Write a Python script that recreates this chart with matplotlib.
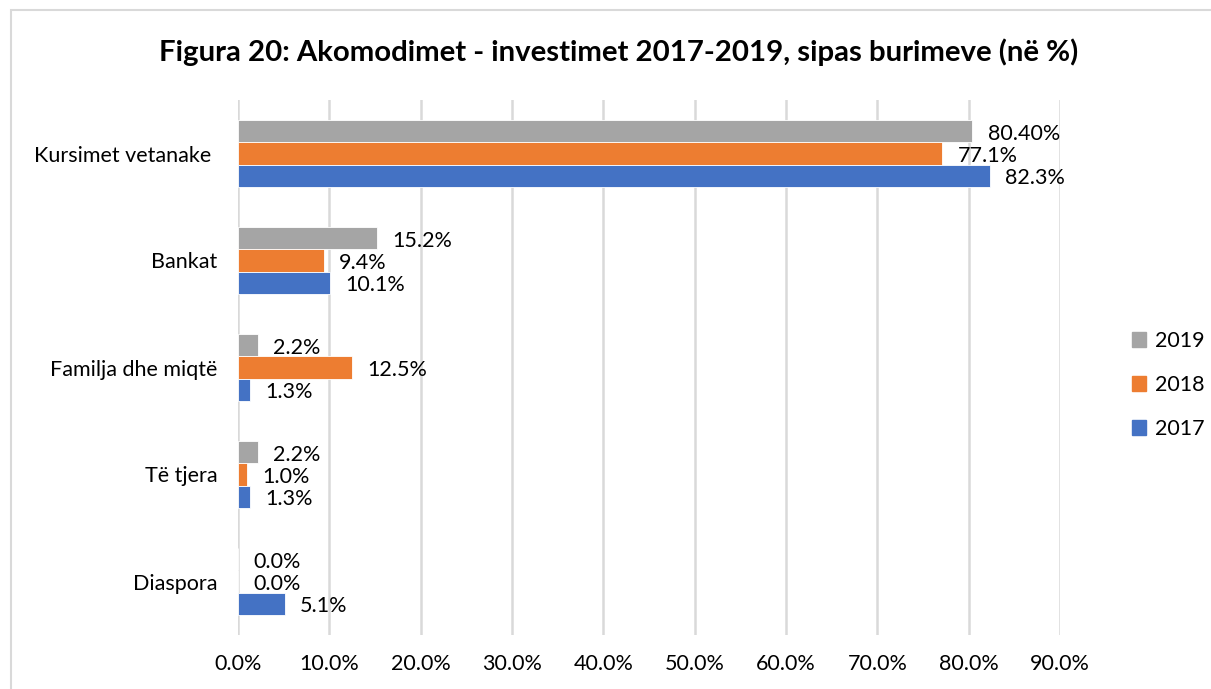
import matplotlib.pyplot as plt
from matplotlib.patches import Rectangle, Patch
import numpy as np

plt.rcParams['font.family'] = ['Lato', 'DejaVu Sans']

categories = ['Kursimet vetanake ', 'Bankat', 'Familja dhe miqtë', 'Të tjera', 'Diaspora']
years = ['2019', '2018', '2017']
values_2019 = [80.40, 15.2, 2.2, 2.2, 0.0]
values_2018 = [77.1, 9.4, 12.5, 1.0, 0.0]
values_2017 = [82.3, 10.1, 1.3, 1.3, 5.1]
labels_2019 = ['80.40%', '15.2%', '2.2%', '2.2%', '0.0%']
labels_2018 = ['77.1%', '9.4%', '12.5%', '1.0%', '0.0%']
labels_2017 = ['82.3%', '10.1%', '1.3%', '1.3%', '5.1%']
colors = ['#A5A5A5', '#ED7D31', '#4472C4']

fs = 15.5

fig = plt.figure(figsize=(12.11, 6.89), dpi=100)
ax = fig.add_axes([238/1211, 1-635/689, (1060-238)/1211, (635-100)/689])

y = np.arange(len(categories))
h = 0.206
series = [(values_2019, labels_2019), (values_2018, labels_2018), (values_2017, labels_2017)]
for i, (vals, labs) in enumerate(series):
    pos = y + (i - 1) * h
    ax.barh(pos, vals, height=h, color=colors[i], edgecolor='white', linewidth=0.6, zorder=3)
    for p, v, t in zip(pos, vals, labs):
        ax.annotate(t, (v, p), xytext=(11, -1.5), textcoords='offset points',
                    va='center', ha='left', fontsize=fs, color='#000000')

ax.set_xlim(0, 90)
ax.set_ylim(4.5, -0.5)
ax.set_xticks(np.arange(0, 91, 10))
ax.set_xticklabels([f'{t:.1f}%' for t in np.arange(0, 91, 10)])
ax.set_yticks(y)
ax.set_yticklabels(categories)
ax.tick_params(length=0, labelsize=fs, colors='#000000')
ax.tick_params(axis='x', pad=14)
ax.tick_params(axis='y', pad=15)
ax.grid(axis='x', color='#d9d9d9', linewidth=1.8, zorder=0)
for s in ax.spines.values():
    s.set_visible(False)

fig.text(619/1211, 1-52/689, 'Figura 20: Akomodimet - investimet 2017-2019, sipas burimeve (në %)',
         ha='center', va='center', fontsize=21.2, fontweight='bold')

handles = [Patch(color=c, label=l) for c, l in zip(colors, years)]
fig.legend(handles=handles, loc='center left', bbox_to_anchor=(1132/1211, 1-385/689),
           frameon=False, fontsize=fs, handlelength=0.65, handleheight=0.65,
           handletextpad=0.4, labelspacing=1.12, borderpad=0, borderaxespad=0)

fig.patches.append(Rectangle((11/1211, -0.1), 1.5, 1.1 - 10/689, transform=fig.transFigure,
                             fill=False, edgecolor='#d9d9d9', linewidth=1.5))

plt.savefig('out.png')
plt.close()
